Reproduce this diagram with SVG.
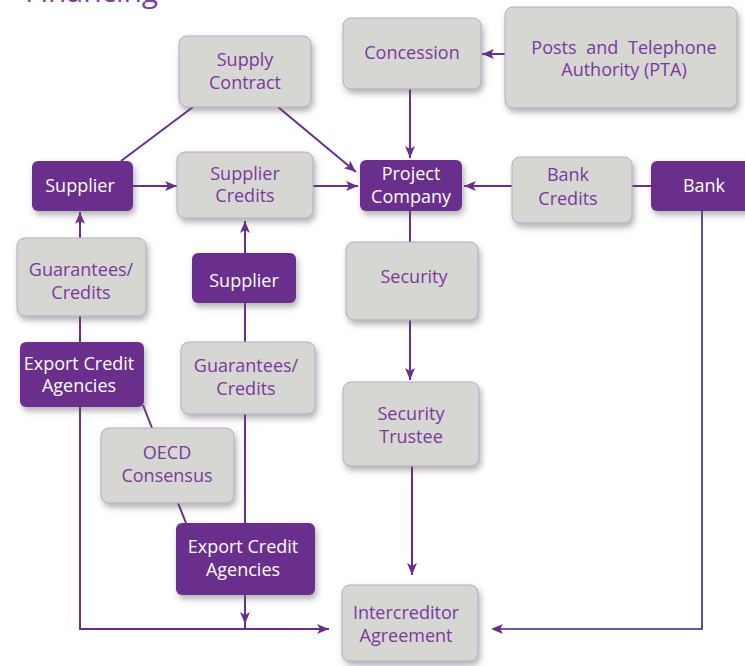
<svg xmlns="http://www.w3.org/2000/svg" width="745" height="666" viewBox="0 0 745 666">
<style>
.g{fill:#d6d6d3;stroke:#bba8c8;stroke-width:1;filter:url(#sh)}
.p{fill:#6b2d8c;stroke:none;filter:url(#sh)}
.tg{font-family:"Open Sans","Liberation Sans",sans-serif;font-size:18px;fill:#7a3a9b;text-anchor:middle}
.tp{font-family:"Open Sans","Liberation Sans",sans-serif;font-size:18px;fill:#ffffff;text-anchor:middle}
.c{stroke:#6b2d8c;stroke-width:2;fill:none}
.a{marker-end:url(#ar)}
.b{stroke:#3b2378;stroke-width:1.6;fill:none}
</style>
<defs>
<filter id="sh" x="-20%" y="-20%" width="150%" height="160%">
<feDropShadow dx="2" dy="4" stdDeviation="3" flood-color="#555" flood-opacity="0.45"/>
</filter>
<marker id="ar" viewBox="0 0 12 10" refX="12" refY="5" markerWidth="12" markerHeight="10" markerUnits="userSpaceOnUse" orient="auto">
<path d="M0,0 L12,5 L0,10 L3,5 z" fill="#6b2d8c"/>
</marker>
<marker id="ab" viewBox="0 0 12 10" refX="12" refY="5" markerWidth="12" markerHeight="10" markerUnits="userSpaceOnUse" orient="auto">
<path d="M0,0 L12,5 L0,10 L3,5 z" fill="#6b2d8c"/>
</marker>
</defs>
<rect width="745" height="666" fill="#ffffff"/>
<text x="25" y="2" font-family="Open Sans, Liberation Sans, sans-serif" font-size="30" fill="#7d3fa5">Financing</text>

<g id="connectors">
<line class="c" x1="193" y1="107" x2="121" y2="161"/>
<line class="c a" x1="278" y1="107" x2="356" y2="172"/>
<line class="c a" x1="133" y1="186" x2="177" y2="186"/>
<line class="c a" x1="313" y1="186" x2="358" y2="186"/>
<line class="c a" x1="410" y1="89" x2="410" y2="158"/>
<line class="c a" x1="505" y1="54" x2="482" y2="54"/>
<line class="c a" x1="512" y1="186" x2="464" y2="186"/>
<line class="c" x1="632" y1="186" x2="651" y2="186"/>
<line class="c" x1="410" y1="211" x2="410" y2="242"/>
<line class="c a" x1="410" y1="320" x2="410" y2="380"/>
<line class="c a" x1="412" y1="466" x2="412" y2="575"/>
<path class="b" d="M702,211 L702,629 L496,629"/>
<path d="M491,629 L503,624 L500,629 L503,634 z" fill="#6b2d8c"/>
<line class="c a" x1="80" y1="238" x2="80" y2="212"/>
<line class="c" x1="80" y1="342" x2="80" y2="316"/>
<path class="c a" d="M80,407 L80,629 L329,629"/>
<line class="c a" x1="245" y1="253" x2="245" y2="221"/>
<line class="c" x1="245" y1="342" x2="245" y2="303"/>
<line class="c" x1="245" y1="414" x2="245" y2="523"/>
<line class="c" x1="245" y1="595" x2="245" y2="630"/>
<line class="c a" x1="245" y1="600" x2="245" y2="624"/>
<line class="c" x1="143" y1="405" x2="152" y2="428"/>
<line class="c" x1="178" y1="503" x2="186" y2="523"/>
</g>

<g id="supply-contract"><rect class="g" x="179" y="36" width="132" height="71" rx="8"/><text class="tg" x="245" y="66">Supply</text><text class="tg" x="245" y="89">Contract</text></g>
<g id="concession"><rect class="g" x="343" y="18" width="138" height="71" rx="8"/><text class="tg" x="412" y="59">Concession</text></g>
<g id="pta"><rect class="g" x="505" y="7" width="232" height="101" rx="8"/><text class="tg" x="624" y="54" word-spacing="5">Posts and Telephone</text><text class="tg" x="624" y="76">Authority (PTA)</text></g>
<g id="project-company"><rect class="p" x="360" y="160" width="102" height="51" rx="6"/><text class="tp" x="411" y="180">Project</text><text class="tp" x="411" y="203">Company</text></g>
<g id="bank-credits"><rect class="g" x="512" y="157" width="120" height="66" rx="8"/><text class="tg" x="568" y="181">Bank</text><text class="tg" x="568" y="205">Credits</text></g>
<g id="bank"><rect class="p" x="651" y="161" width="110" height="50" rx="6"/><text class="tp" x="704" y="192">Bank</text></g>
<g id="supplier-1"><rect class="p" x="32" y="161" width="101" height="50" rx="6"/><text class="tp" x="80" y="192">Supplier</text></g>
<g id="supplier-credits"><rect class="g" x="177" y="152" width="136" height="66" rx="8"/><text class="tg" x="245" y="180">Supplier</text><text class="tg" x="245" y="202">Credits</text></g>
<g id="guarantees-1"><rect class="g" x="17" y="238" width="129" height="78" rx="8"/><text class="tg" x="81" y="276">Guarantees/</text><text class="tg" x="81" y="299">Credits</text></g>
<g id="supplier-2"><rect class="p" x="192" y="253" width="104" height="50" rx="6"/><text class="tp" x="244" y="287">Supplier</text></g>
<g id="security"><rect class="g" x="346" y="242" width="132" height="78" rx="8"/><text class="tg" x="414" y="283">Security</text></g>
<g id="security-trustee"><rect class="g" x="343" y="382" width="136" height="84" rx="8"/><text class="tg" x="411" y="420">Security</text><text class="tg" x="411" y="443">Trustee</text></g>
<g id="intercreditor"><rect class="g" x="342" y="585" width="136" height="76" rx="8"/><text class="tg" x="406" y="619">Intercreditor</text><text class="tg" x="406" y="642">Agreement</text></g>
<g id="eca-1"><rect class="p" x="20" y="342" width="124" height="65" rx="6"/><text class="tp" x="79" y="370">Export Credit</text><text class="tp" x="79" y="392">Agencies</text></g>
<g id="guarantees-2"><rect class="g" x="181" y="342" width="134" height="72" rx="8"/><text class="tg" x="246" y="372">Guarantees/</text><text class="tg" x="246" y="395">Credits</text></g>
<g id="oecd"><rect class="g" x="101" y="428" width="133" height="75" rx="8"/><text class="tg" x="167" y="459">OECD</text><text class="tg" x="167" y="482">Consensus</text></g>
<g id="eca-2"><rect class="p" x="176" y="523" width="139" height="72" rx="6"/><text class="tp" x="243" y="553">Export Credit</text><text class="tp" x="243" y="576">Agencies</text></g>
</svg>
